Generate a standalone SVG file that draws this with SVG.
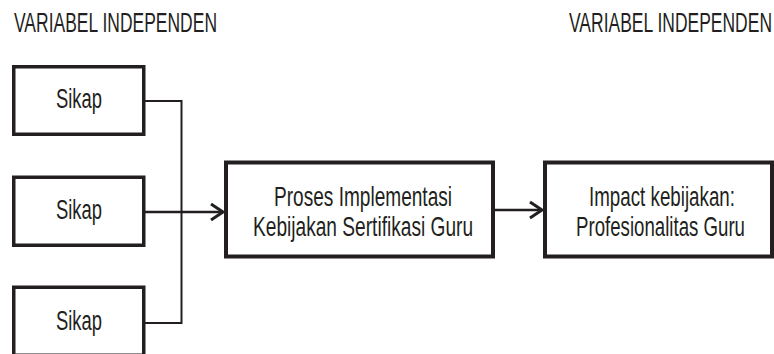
<svg xmlns="http://www.w3.org/2000/svg" width="774" height="354" viewBox="0 0 774 354">
<style>
  .box { fill: #ffffff; stroke: #231f20; stroke-width: 3.5; }
  .bigbox { fill: #ffffff; stroke: #231f20; stroke-width: 4; }
  .t { font-family: "Liberation Sans Narrow", "Liberation Sans", Arial, sans-serif; font-size: 27.5px; fill: #231f20; }
  .conn { fill: none; stroke: #231f20; stroke-width: 2; }
  .arrow { fill: none; stroke: #231f20; stroke-width: 2.5; }
</style>
<defs>
  <marker id="chev" markerUnits="userSpaceOnUse" markerWidth="16" markerHeight="20" refX="13" refY="10" orient="auto" viewBox="0 0 16 20">
    <path d="M1,2 L13,10 L1,18" fill="none" stroke="#231f20" stroke-width="3"/>
  </marker>
</defs>
<rect width="774" height="354" fill="#ffffff"/>
<g id="title-left"><text class="t" transform="translate(14,32) scale(0.83,1)" textLength="244.6" lengthAdjust="spacingAndGlyphs">VARIABEL INDEPENDEN</text></g>
<g id="title-right"><text class="t" transform="translate(569,32) scale(0.83,1)" textLength="244.6" lengthAdjust="spacingAndGlyphs">VARIABEL INDEPENDEN</text></g>

<g id="connectors">
  <polyline class="conn" points="145,101 181.5,101 181.5,323 145,323"/>
  <line class="arrow" x1="145" y1="212" x2="223" y2="212" marker-end="url(#chev)"/>
  <line class="arrow" x1="495" y1="210" x2="542" y2="210" marker-end="url(#chev)"/>
</g>

<g id="sikap1">
  <rect class="box" x="13.75" y="66.75" width="130" height="67.5"/>
  <text class="t" transform="translate(56,108) scale(0.83,1)" textLength="55.4" lengthAdjust="spacingAndGlyphs">Sikap</text>
</g>
<g id="sikap2">
  <rect class="box" x="13.75" y="177.25" width="130" height="68"/>
  <text class="t" transform="translate(56,219) scale(0.83,1)" textLength="55.4" lengthAdjust="spacingAndGlyphs">Sikap</text>
</g>
<g id="sikap3">
  <rect class="box" x="13.75" y="287.25" width="130" height="68"/>
  <text class="t" transform="translate(56,329.5) scale(0.83,1)" textLength="55.4" lengthAdjust="spacingAndGlyphs">Sikap</text>
</g>

<g id="proses">
  <rect class="bigbox" x="226" y="162.5" width="267" height="94"/>
  <text class="t" transform="translate(274,206) scale(0.83,1)" textLength="214.5" lengthAdjust="spacingAndGlyphs">Proses Implementasi</text>
  <text class="t" transform="translate(253,236) scale(0.83,1)" textLength="265.1" lengthAdjust="spacingAndGlyphs">Kebijakan Sertifikasi Guru</text>
</g>

<g id="impact">
  <rect class="bigbox" x="545" y="162.5" width="227" height="94"/>
  <text class="t" transform="translate(589,206) scale(0.83,1)" textLength="175.9" lengthAdjust="spacingAndGlyphs">Impact kebijakan:</text>
  <text class="t" transform="translate(576,236) scale(0.83,1)" textLength="203.6" lengthAdjust="spacingAndGlyphs">Profesionalitas Guru</text>
</g>
</svg>
